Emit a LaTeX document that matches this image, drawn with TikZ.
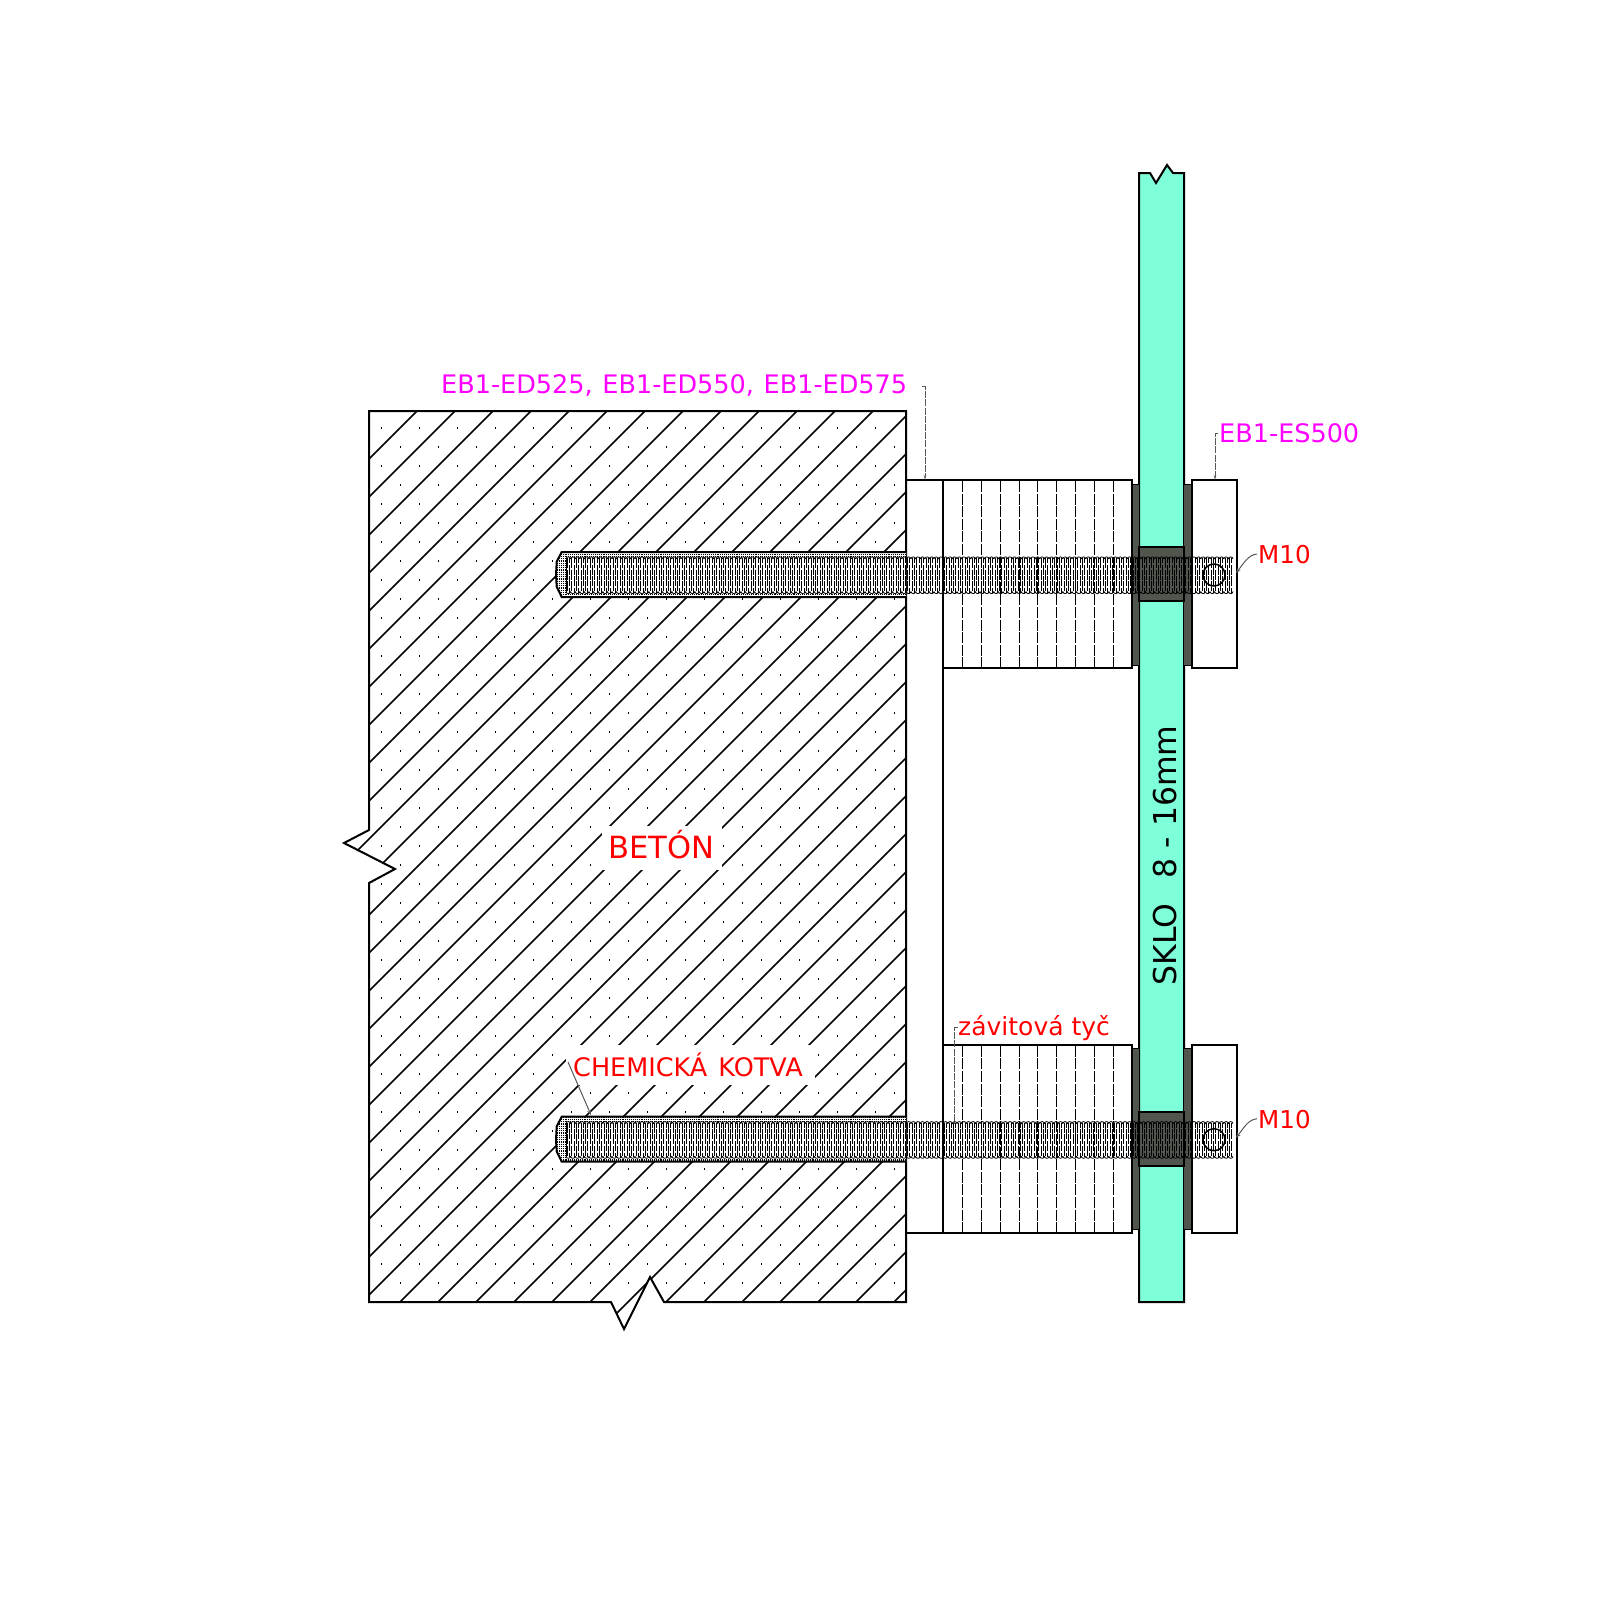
\documentclass[tikz,border=0pt]{standalone}
\usepackage{fontspec}
\setmainfont{DejaVu Sans}
\usetikzlibrary{arrows.meta}
\definecolor{glass}{HTML}{7FFFD9}
\definecolor{seal}{HTML}{50564E}
\definecolor{leader}{HTML}{555A55}
\definecolor{magtext}{HTML}{FF00FF}
\tikzset{
  outline/.style={draw=black,line width=2pt,line join=miter},
  hatchline/.style={draw=black,line width=1.5pt},
  threadline/.style={draw=black,line width=0.55pt},
  leaderline/.style={draw=leader,line width=1pt},
  leaderdash/.style={draw=leader,line width=1pt,dash pattern=on 7pt off 1.2pt},
  tiphead/.style={-{Stealth[length=5pt,width=4pt]}},
  sliphead/.style={-{Stealth[length=5pt,width=2.5pt]}},
  lab/.style={inner sep=0pt,anchor=west,font=\fontsize{25.5}{28}\selectfont},
  redlab/.style={lab,text=red},
  maglab/.style={lab,text=magtext},
  halo/.style={fill=white,draw=none},
}
\begin{document}
\begin{tikzpicture}[x=1pt,y=-1pt]
\useasboundingbox (0,0) rectangle (1600,1600);
\def\concrete{(369,411) -- (906,411) -- (906,1302) -- (664,1302) -- (650,1277) -- (624,1329) -- (611,1302) -- (369,1302) -- (369,883) -- (395,869) -- (344,843) -- (369,830) -- cycle}
% concrete
\begin{scope}
  \clip \concrete;
  \foreach \k in {0,1,...,46} {
    \pgfmathsetmacro{\c}{828+38*\k}
    \draw[hatchline] ({\c-411+20},-20+411) -- ({\c-1340},1340);
  }
  \foreach \r in {0,1,...,23} {
    \pgfmathsetmacro{\ya}{428+38*\r}
    \pgfmathsetmacro{\yb}{447+38*\r}
    \foreach \j in {0,1,...,13} {
      \pgfmathsetmacro{\xa}{381.7+38*\j}
      \pgfmathsetmacro{\xb}{400.5+38*\j}
      \fill[black] (\xa-.55,\ya-.55) rectangle (\xa+.55,\ya+.55);
      \fill[black] (\xb-.55,\yb-.55) rectangle (\xb+.55,\yb+.55);
    }
  }
\end{scope}
\fill[halo] (602,826) rectangle (722,870);
\fill[halo] (566,1045) rectangle (815,1085);
\draw[outline] \concrete;
% spacer column
\draw[outline] (906,480) -- (943,480) -- (943,1233) -- (906,1233);
% glass
\draw[outline,fill=glass] (1139,173) -- (1150,173) -- (1156,183) -- (1167,165) -- (1173,173) -- (1184,173) -- (1184,1302) -- (1139,1302) -- cycle;
% fixing sets
\foreach \dy in {0,564.7} {
\begin{scope}[yshift=-\dy pt]
  \fill[seal] (1132,484) rectangle (1139,665);
  \fill[seal] (1184,484) rectangle (1192,665);
  \draw[draw=black,line width=1pt] (1132,484) -- (1139,484) (1132,665) -- (1139,665) (1184,484) -- (1192,484) (1184,665) -- (1192,665);
  \draw[outline,fill=seal] (1139,547) rectangle (1184,601);
  \draw[outline,fill=white] (943,480) rectangle (1132,668);
  \draw[outline,fill=white] (1192,480) rectangle (1237,668);
  \foreach \x in {962.7,981.7,1000.7,1019.7,1037.7,1056.7,1075.7,1094.7,1113.7}
    \draw[draw=black,line width=0.9pt,dash pattern=on 11pt off 1.6pt] (\x,481) -- (\x,667);
  % anchor
  \def\anchorshape{(906,552) -- (561.7,552) -- (556.7,561.7) -- (556,575) -- (556.7,586.7) -- (561.7,597) -- (906,597)}
  \fill[white] \anchorshape -- cycle;
  \begin{scope}
    \clip \anchorshape -- cycle;
    \foreach \yy in {552.8,554.6,...,597.5}
      \draw[draw=black,line width=0.8pt,dash pattern=on 0.8pt off 1.1pt] (555,\yy) -- (906,\yy);
  \end{scope}
  \fill[white] (566,557) rectangle (906,593);
  \draw[outline] \anchorshape;
  \draw[draw=black,line width=1pt] (566,558) -- (566,592);
  % thread
  \draw[threadline,dash pattern=on 10pt off 1.6pt] \foreach \x in {567,571.6,...,1233} { (\x,558) -- (\x,592.5) };
  \draw[threadline,dash pattern=on 10pt off 1.6pt,dash phase=5pt] \foreach \x in {569.3,573.9,...,1233} { (\x,558) -- (\x,592.5) };
  \draw[draw=black,line width=0.8pt] \foreach \x in {566,570.6,...,1229} {
    (\x,559) .. controls (\x+.3,556.2) and (\x+4.3,556.2) .. (\x+4.6,559)
    (\x,591.5) .. controls (\x+.3,594.3) and (\x+4.3,594.3) .. (\x+4.6,591.5)
  };
  \draw[draw=black,line width=1.5pt] (1214,575) circle (11);
\end{scope}
}
% labels
\node[maglab] (edlabel) at (441,386) {EB1-ED525,\hspace{1.6pt} EB1-ED550,\hspace{1.6pt} EB1-ED575};
\node[maglab] (eslabel) at (1219,433) {EB1-ES500};
\node[redlab,font=\fontsize{24.6}{28}\selectfont] (m10a) at (1258,555) {M10};
\node[redlab,font=\fontsize{24.6}{28}\selectfont] (m10b) at (1258,1119.7) {M10};
\node[redlab,font=\fontsize{25}{28}\selectfont] (rodlabel) at (958,1028) {závitová tyč};
\node[redlab] (kotva) at (573,1065) {CHEMICKÁ\hspace{3pt} KOTVA};
\node[inner sep=0pt,text=red,font=\fontsize{30.6}{34}\selectfont] (beton) at (661,845) {BETÓN};
\node[inner sep=0pt,text=black,rotate=90,font=\fontsize{31.5}{34}\selectfont] (sklo) at (1165.5,855.5) {SKLO\ \ \,8 - 16mm};
% leaders
\coordinate (edtop) at (925,386);
\coordinate (edhook) at (922,386);
\coordinate (edend) at (925,480);
\coordinate (estop) at (1215,433);
\coordinate (eshook) at (1218,433);
\coordinate (esend) at (1215,480);
\coordinate (rodtop) at (954.5,1027);
\coordinate (rodhook) at (957.5,1027);
\coordinate (rodend) at (954.5,1124);
\coordinate (kotvatop) at (568,1062);
\coordinate (kotvaend) at (591,1115);
\coordinate (m10aend) at (1236,573);
\coordinate (m10bend) at (1236,1137.7);
\draw[leaderdash,sliphead] (edhook) -- (edtop) -- (edend);
\draw[leaderdash,sliphead] (eshook) -- (estop) -- (esend);
\draw[leaderdash] (rodhook) -- (rodtop) -- (rodend);
\draw[leaderline,tiphead] (kotvatop) -- (kotvaend);
\draw[leaderline,tiphead] (m10a.west) ++(-1,-1) .. controls (1248,555) and (1244,563) .. (m10aend);
\draw[leaderline,tiphead] (m10b.west) ++(-1,-1) .. controls (1248,1119.7) and (1244,1127.7) .. (m10bend);
\end{tikzpicture}
\end{document}
